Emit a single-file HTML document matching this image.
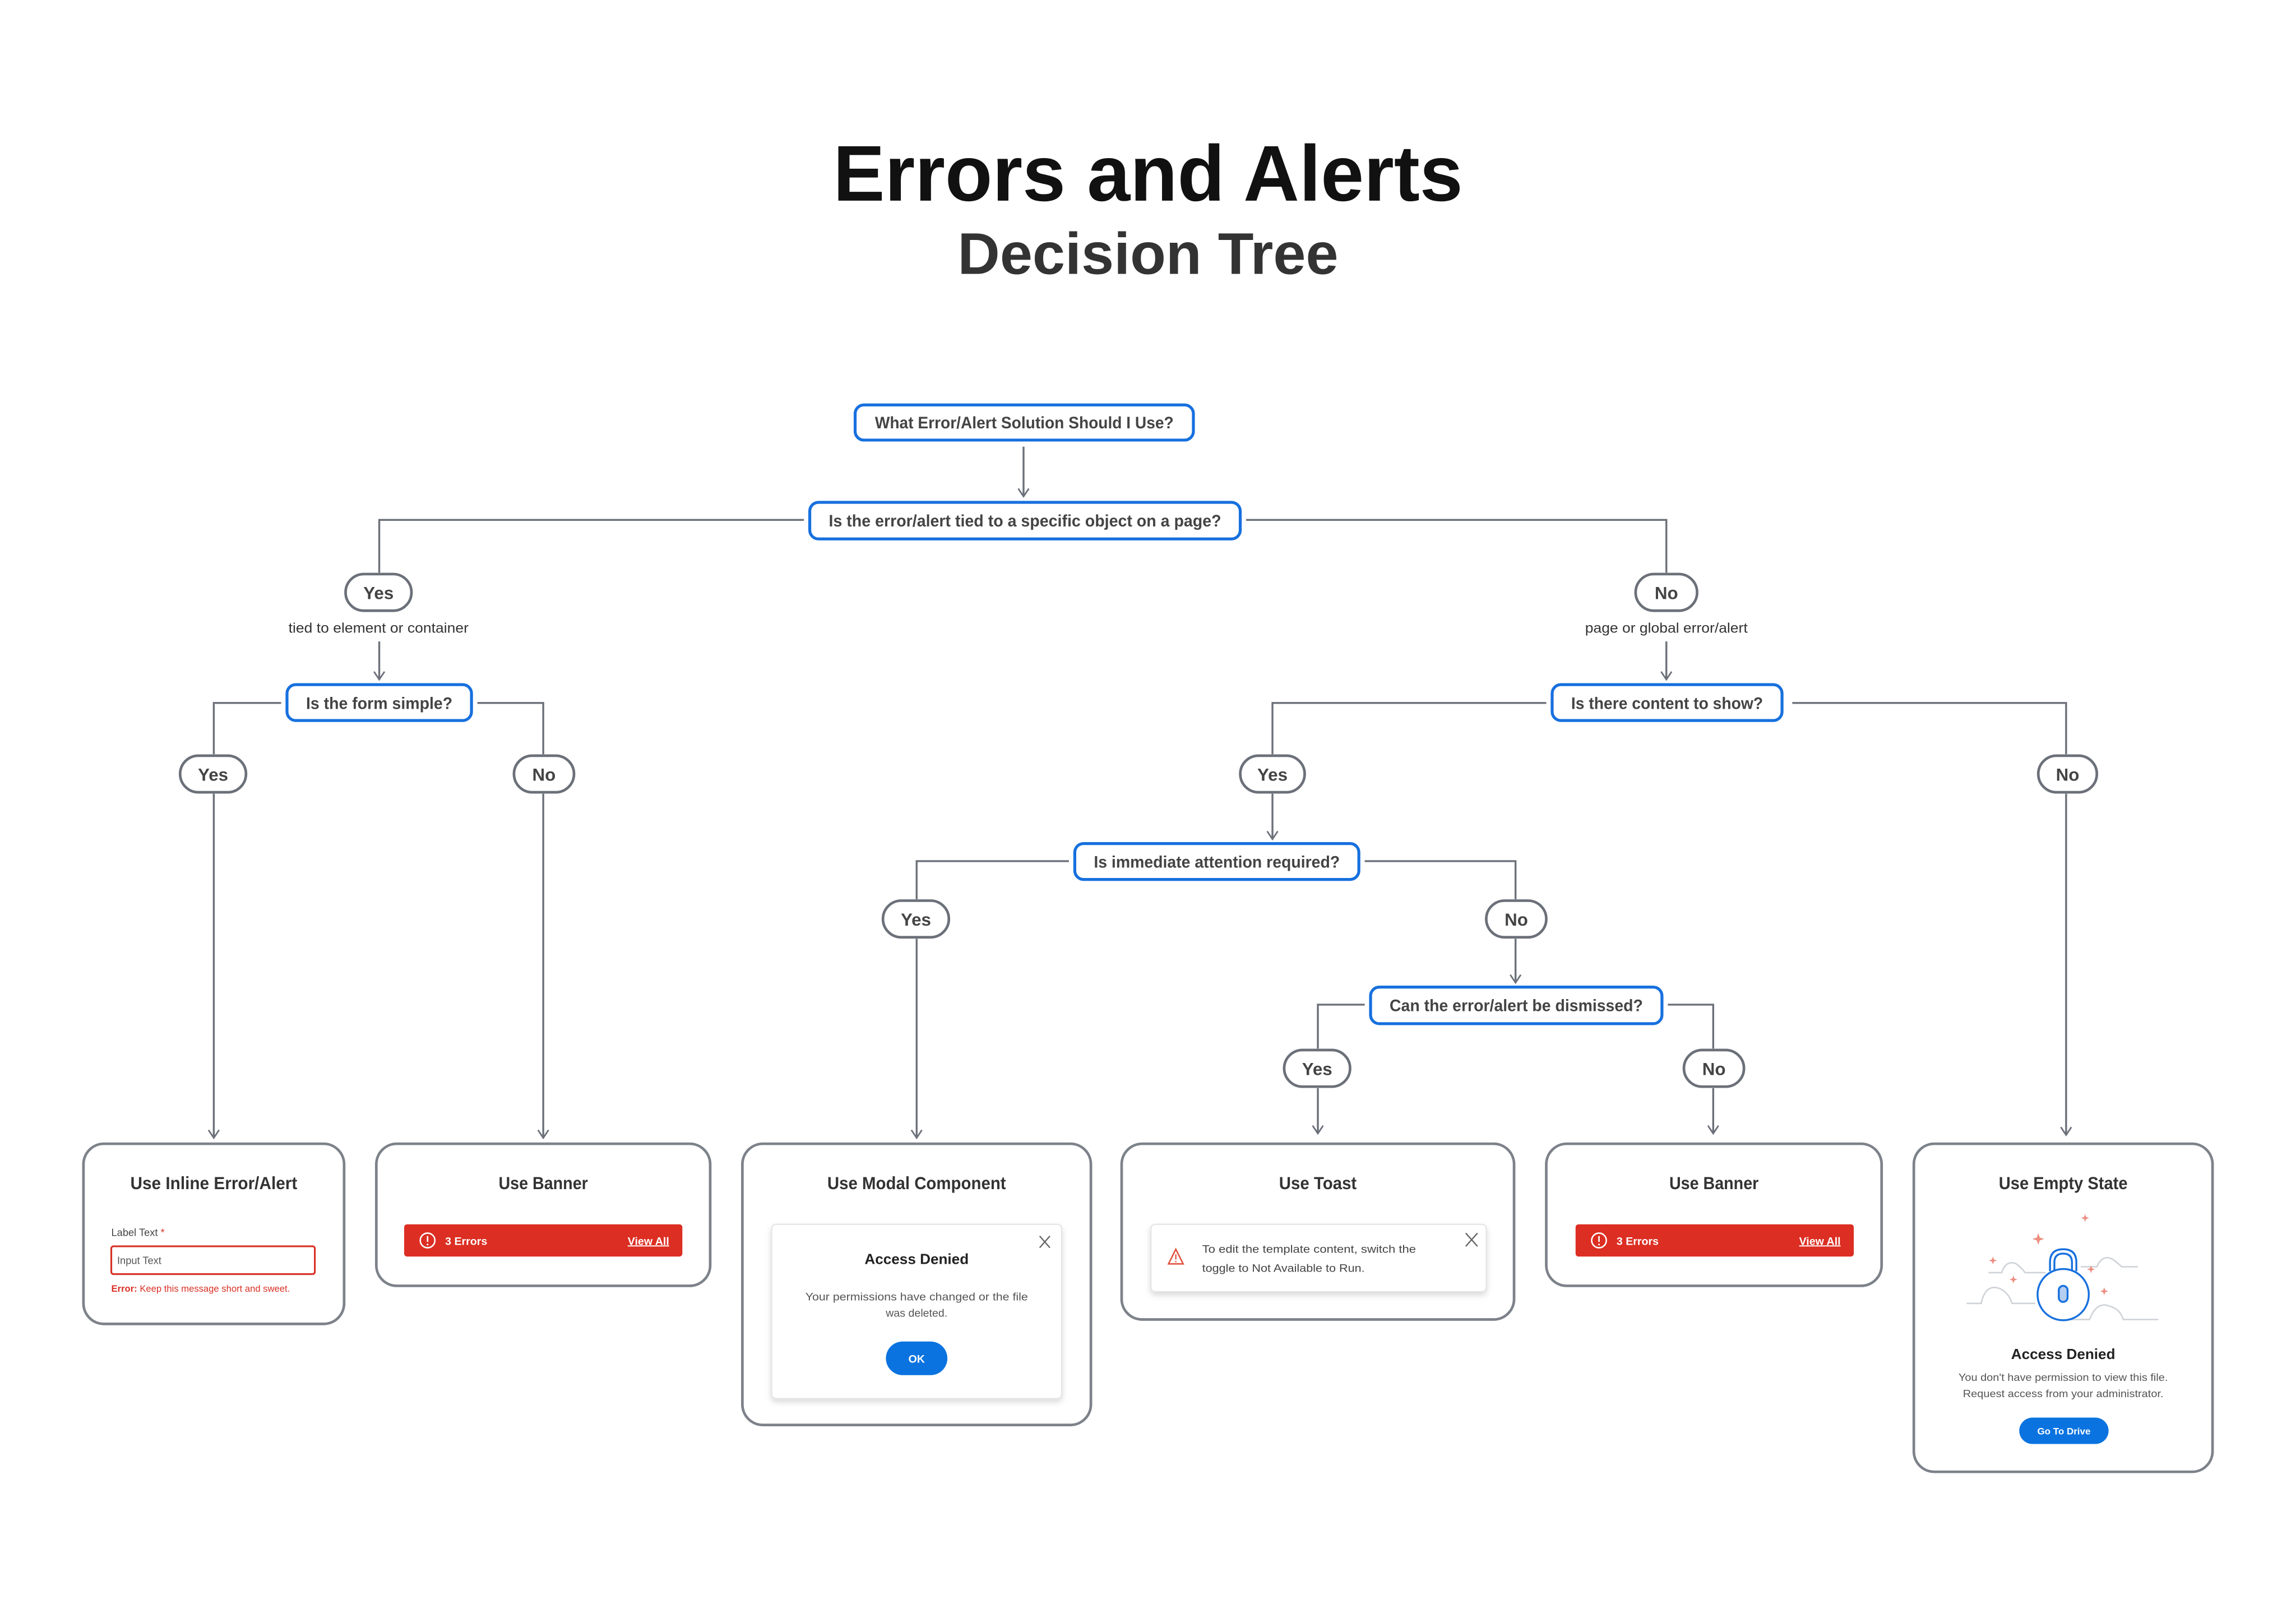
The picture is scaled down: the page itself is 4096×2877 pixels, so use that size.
<!DOCTYPE html>
<html><head><meta charset="utf-8"><style>
html,body{margin:0;padding:0;background:#fff;}
svg{display:block;}
text{font-family:"Liberation Sans",Arial,sans-serif;}
</style></head><body>
<svg width="4096" height="2877" viewBox="0 0 1568 1101.4" preserveAspectRatio="none" xmlns="http://www.w3.org/2000/svg">
<defs>
<marker id="ar" viewBox="0 0 10 10" refX="9" refY="5" markerWidth="9" markerHeight="9" orient="auto" markerUnits="userSpaceOnUse">
<path d="M3,1 L9,5 L3,9" fill="none" stroke="#6b7079" stroke-width="1.2"/>
</marker>
<filter id="sh" x="-10%" y="-10%" width="120%" height="130%"><feDropShadow dx="0" dy="2" stdDeviation="2" flood-color="#000" flood-opacity="0.15"/></filter>
</defs>
<rect width="1568" height="1101.4" fill="#fff"/>

<text x="784" y="137" text-anchor="middle" font-size="54" font-weight="bold" fill="#111" textLength="430" lengthAdjust="spacingAndGlyphs">Errors and Alerts</text>
<text x="784" y="187" text-anchor="middle" font-size="40" font-weight="bold" fill="#333" textLength="260" lengthAdjust="spacingAndGlyphs">Decision Tree</text>

<g fill="none" stroke="#6b7079" stroke-width="1.3">
<line x1="699" y1="305" x2="699" y2="339" marker-end="url(#ar)"/>
<polyline points="549,355 259,355 259,391"/>
<polyline points="851,355 1138,355 1138,391"/>
<line x1="259" y1="438" x2="259" y2="464" marker-end="url(#ar)"/>
<line x1="1138" y1="438" x2="1138" y2="464" marker-end="url(#ar)"/>
<polyline points="192,480 146,480 146,515"/>
<polyline points="326,480 371,480 371,515"/>
<line x1="146" y1="542" x2="146" y2="777" marker-end="url(#ar)"/>
<line x1="371" y1="542" x2="371" y2="777" marker-end="url(#ar)"/>
<polyline points="1056,480 869,480 869,515"/>
<polyline points="1224,480 1411,480 1411,515"/>
<line x1="869" y1="542" x2="869" y2="573" marker-end="url(#ar)"/>
<line x1="1411" y1="542" x2="1411" y2="775" marker-end="url(#ar)"/>
<polyline points="730,588 626,588 626,614"/>
<polyline points="932,588 1035,588 1035,614"/>
<line x1="626" y1="641" x2="626" y2="777" marker-end="url(#ar)"/>
<line x1="1035" y1="641" x2="1035" y2="671" marker-end="url(#ar)"/>
<polyline points="932,686 900,686 900,716"/>
<polyline points="1139,686 1170,686 1170,716"/>
<line x1="900" y1="743" x2="900" y2="774" marker-end="url(#ar)"/>
<line x1="1170" y1="743" x2="1170" y2="774" marker-end="url(#ar)"/>
</g>

<g fill="#fff" stroke="#1770de" stroke-width="2">
<rect x="584" y="276.5" width="231" height="24" rx="6"/>
<rect x="553" y="343" width="294" height="25" rx="6"/>
<rect x="196" y="467.5" width="126" height="24.5" rx="6"/>
<rect x="1060" y="467.5" width="157" height="24.5" rx="6"/>
<rect x="734" y="576" width="194" height="24.5" rx="6"/>
<rect x="936" y="674" width="199" height="25" rx="6"/>
</g>
<g font-size="11.5" font-weight="bold" fill="#444" text-anchor="middle">
<text x="699.5" y="292.5" textLength="204" lengthAdjust="spacingAndGlyphs">What Error/Alert Solution Should I Use?</text>
<text x="700" y="359.5" textLength="268" lengthAdjust="spacingAndGlyphs">Is the error/alert tied to a specific object on a page?</text>
<text x="259" y="484" textLength="100" lengthAdjust="spacingAndGlyphs">Is the form simple?</text>
<text x="1138.5" y="484" textLength="131" lengthAdjust="spacingAndGlyphs">Is there content to show?</text>
<text x="831" y="592.5" textLength="168" lengthAdjust="spacingAndGlyphs">Is immediate attention required?</text>
<text x="1035.5" y="690.5" textLength="173" lengthAdjust="spacingAndGlyphs">Can the error/alert be dismissed?</text>
</g>

<g fill="#fff" stroke="#6b7079" stroke-width="1.8">
<rect x="236" y="392" width="45" height="25" rx="12.5"/>
<rect x="1117" y="392" width="42" height="25" rx="12.5"/>
<rect x="123" y="516" width="45" height="25" rx="12.5"/>
<rect x="351" y="516" width="41" height="25" rx="12.5"/>
<rect x="847" y="516" width="44" height="25" rx="12.5"/>
<rect x="1392" y="516" width="40" height="25" rx="12.5"/>
<rect x="603" y="615" width="45" height="25" rx="12.5"/>
<rect x="1015" y="615" width="41" height="25" rx="12.5"/>
<rect x="877" y="717" width="45" height="25" rx="12.5"/>
<rect x="1150" y="717" width="41" height="25" rx="12.5"/>
</g>
<g font-size="12" font-weight="bold" fill="#444" text-anchor="middle">
<text x="258.5" y="409">Yes</text><text x="1138" y="409">No</text>
<text x="145.5" y="533">Yes</text><text x="371.5" y="533">No</text>
<text x="869" y="533">Yes</text><text x="1412" y="533">No</text>
<text x="625.5" y="632">Yes</text><text x="1035.5" y="632">No</text>
<text x="899.5" y="734">Yes</text><text x="1170.5" y="734">No</text>
</g>
<g font-size="9.5" fill="#333" text-anchor="middle">
<text x="258.5" y="432" textLength="123" lengthAdjust="spacingAndGlyphs">tied to element or container</text>
<text x="1138" y="432" textLength="111" lengthAdjust="spacingAndGlyphs">page or global error/alert</text>
</g>

<g fill="#fff" stroke="#7d828a" stroke-width="1.8">
<rect x="57" y="781" width="178" height="123" rx="14"/>
<rect x="257" y="781" width="228" height="97" rx="14"/>
<rect x="507" y="781" width="238" height="192" rx="14"/>
<rect x="766" y="781" width="268" height="120" rx="14"/>
<rect x="1056" y="781" width="229" height="97" rx="14"/>
<rect x="1307" y="781" width="204" height="224" rx="14"/>
</g>
<g font-size="12" font-weight="bold" fill="#333" text-anchor="middle">
<text x="146" y="812" textLength="114" lengthAdjust="spacingAndGlyphs">Use Inline Error/Alert</text>
<text x="371" y="812" textLength="61" lengthAdjust="spacingAndGlyphs">Use Banner</text>
<text x="626" y="812" textLength="122" lengthAdjust="spacingAndGlyphs">Use Modal Component</text>
<text x="900" y="812" textLength="53" lengthAdjust="spacingAndGlyphs">Use Toast</text>
<text x="1170.5" y="812" textLength="61" lengthAdjust="spacingAndGlyphs">Use Banner</text>
<text x="1409" y="812" textLength="88" lengthAdjust="spacingAndGlyphs">Use Empty State</text>
</g>

<text x="76" y="844" font-size="7" fill="#444">Label Text <tspan fill="#d93025">*</tspan></text>
<rect x="76" y="851" width="139" height="19" rx="1.5" fill="#fff" stroke="#d93025" stroke-width="1.2"/>
<text x="80" y="863" font-size="7" fill="#555">Input Text</text>
<text x="76" y="882" font-size="6.5" fill="#d93025" textLength="122" lengthAdjust="spacingAndGlyphs"><tspan font-weight="bold">Error:</tspan> Keep this message short and sweet.</text>

<g>
<rect x="276" y="836" width="190" height="22" rx="2" fill="#dc2e22"/>
<circle cx="292" cy="847" r="5" fill="none" stroke="#fff" stroke-width="1"/>
<line x1="292" y1="844" x2="292" y2="848" stroke="#fff" stroke-width="1"/><circle cx="292" cy="849.8" r="0.6" fill="#fff"/>
<text x="304" y="850" font-size="7.5" font-weight="bold" fill="#fff">3 Errors</text>
<text x="457" y="850" font-size="7.5" font-weight="bold" fill="#fff" text-anchor="end" text-decoration="underline">View All</text>
</g>
<g>
<rect x="1076" y="836" width="190" height="22" rx="2" fill="#dc2e22"/>
<circle cx="1092" cy="847" r="5" fill="none" stroke="#fff" stroke-width="1"/>
<line x1="1092" y1="844" x2="1092" y2="848" stroke="#fff" stroke-width="1"/><circle cx="1092" cy="849.8" r="0.6" fill="#fff"/>
<text x="1104" y="850" font-size="7.5" font-weight="bold" fill="#fff">3 Errors</text>
<text x="1257" y="850" font-size="7.5" font-weight="bold" fill="#fff" text-anchor="end" text-decoration="underline">View All</text>
</g>

<rect x="527" y="836" width="198" height="119" rx="3" fill="#fff" stroke="#e4e4e4" stroke-width="0.8" filter="url(#sh)"/>
<path d="M710,844 L717,852 M717,844 L710,852" stroke="#666" stroke-width="0.9"/>
<text x="626" y="863" font-size="10" font-weight="bold" fill="#222" text-anchor="middle">Access Denied</text>
<text x="626" y="888" font-size="7.5" fill="#555" text-anchor="middle" textLength="152" lengthAdjust="spacingAndGlyphs">Your permissions have changed or the file</text>
<text x="626" y="899" font-size="7.5" fill="#555" text-anchor="middle">was deleted.</text>
<rect x="605" y="916" width="42" height="23" rx="11.5" fill="#0a73e0"/>
<text x="626" y="930.5" font-size="7.5" font-weight="bold" fill="#fff" text-anchor="middle">OK</text>

<rect x="786" y="836" width="229" height="46" rx="3" fill="#fff" stroke="#e4e4e4" stroke-width="0.8" filter="url(#sh)"/>
<path d="M1001,842 L1009,851 M1009,842 L1001,851" stroke="#666" stroke-width="0.9"/>
<path d="M803,853 L808,863 L798,863 Z" fill="none" stroke="#e0553f" stroke-width="1"/>
<line x1="803" y1="856.5" x2="803" y2="860" stroke="#e0553f" stroke-width="0.9"/><circle cx="803" cy="861.5" r="0.5" fill="#e0553f"/>
<text x="821" y="855.5" font-size="7.5" fill="#444" textLength="146" lengthAdjust="spacingAndGlyphs">To edit the template content, switch the</text>
<text x="821" y="868.5" font-size="7.5" fill="#444" textLength="111" lengthAdjust="spacingAndGlyphs">toggle to Not Available to Run.</text>

<g stroke="#cfd3d8" stroke-width="1" fill="none">
<path d="M1343,890 H1353 Q1356,876 1366,880 Q1372,883 1374,890 H1390"/>
<path d="M1358,869 H1367 Q1370,860 1377,863 Q1381,866 1383,869 H1397"/>
<path d="M1421,865 H1432 Q1436,856 1443,860 Q1447,863 1449,865 H1460"/>
<path d="M1413,901 H1427 Q1432,888 1441,892 Q1448,894 1450,901 H1474"/>
</g>
<g fill="#ec8e80">
<path d="M1392,842 l1,3 l3,1 l-3,1 l-1,3 l-1,-3 l-3,-1 l3,-1z"/>
<path d="M1424,829 l0.7,2 l2,0.7 l-2,0.7 l-0.7,2 l-0.7,-2 l-2,-0.7 l2,-0.7z"/>
<path d="M1361,858 l0.7,2 l2,0.7 l-2,0.7 l-0.7,2 l-0.7,-2 l-2,-0.7 l2,-0.7z"/>
<path d="M1428,864 l0.7,2 l2,0.7 l-2,0.7 l-0.7,2 l-0.7,-2 l-2,-0.7 l2,-0.7z"/>
<path d="M1375,871 l0.7,2 l2,0.7 l-2,0.7 l-0.7,2 l-0.7,-2 l-2,-0.7 l2,-0.7z"/>
<path d="M1437,879 l0.7,2 l2,0.7 l-2,0.7 l-0.7,2 l-0.7,-2 l-2,-0.7 l2,-0.7z"/>
</g>
<g stroke="#1770de" stroke-width="1.3" fill="#fff">
<path d="M1400,868 V862 Q1400,853 1409,853 Q1418,853 1418,862 V868"/>
<path d="M1403,868 V862 Q1403,856 1409,856 Q1415,856 1415,862 V868"/>
<circle cx="1409" cy="884" r="17.5"/>
<rect x="1406" y="878" width="6" height="11" rx="3" fill="#b5cdef"/>
</g>
<text x="1409" y="928" font-size="10" font-weight="bold" fill="#222" text-anchor="middle">Access Denied</text>
<text x="1409" y="943" font-size="7" fill="#555" text-anchor="middle" textLength="143" lengthAdjust="spacingAndGlyphs">You don't have permission to view this file.</text>
<text x="1409" y="954" font-size="7" fill="#555" text-anchor="middle" textLength="137" lengthAdjust="spacingAndGlyphs">Request access from your administrator.</text>
<rect x="1379" y="968" width="61" height="18" rx="9" fill="#0a73e0"/>
<text x="1409.5" y="979.5" font-size="6.5" font-weight="bold" fill="#fff" text-anchor="middle">Go To Drive</text>
</svg>
</body></html>
